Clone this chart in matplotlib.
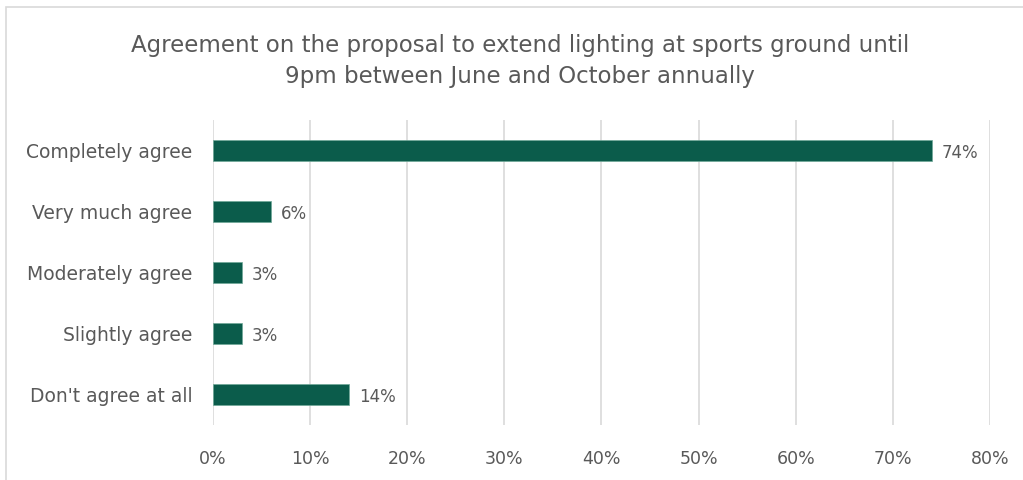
import matplotlib.pyplot as plt
from matplotlib.patches import Rectangle

# Survey answers, top to bottom
categories = ['Completely agree', 'Very much agree', 'Moderately agree',
              'Slightly agree', "Don't agree at all"]
shares = [74, 6, 3, 3, 14]
ticks = [0, 10, 20, 30, 40, 50, 60, 70, 80]

text_grey = '#595959'
bar_green = '#0B5C4B'

plt.rcParams['font.family'] = ['DejaVu Sans']

fig = plt.figure(figsize=(10.23, 4.8), dpi=100)
ax = fig.add_axes([0.2082, 0.1146, 0.7595, 0.6354])

ypos = list(range(len(categories)))
ax.barh(ypos, shares, height=0.33, color=bar_green, edgecolor='#6fa898', linewidth=0.5, zorder=3)

# Value labels to the right of each bar
for y, v in zip(ypos, shares):
    ax.text(v + 1.0, y + 0.04, f'{v}%', va='center', ha='left', fontsize=12, color=text_grey)

ax.set_xlim(0, 80)
ax.set_ylim(4.5, -0.5)
ax.set_xticks(ticks)
ax.set_xticklabels([f'{t}%' for t in ticks])
ax.set_yticks(ypos)
ax.set_yticklabels(categories)
ax.tick_params(axis='x', length=0, labelsize=12.5, colors=text_grey, pad=18)
ax.tick_params(axis='y', length=0, labelsize=13.5, colors=text_grey, pad=15)

ax.grid(axis='x', color='#d9d9d9', linewidth=1.2, zorder=0)
for side in ['top', 'right', 'bottom', 'left']:
    ax.spines[side].set_visible(False)

fig.text(0.508, 0.872, 'Agreement on the proposal to extend lighting at sports ground until\n9pm between June and October annually',
         ha='center', va='center', fontsize=16.5, color=text_grey, linespacing=1.45)

# Chart frame, cut off at right and bottom in the reference
frame = Rectangle((6 / 1023, -0.1), 1.2, 1 - 7 / 480 + 0.1, transform=fig.transFigure,
                  fill=False, edgecolor='#d9d9d9', linewidth=1.2)
fig.patches.append(frame)

fig.savefig('out.png', dpi=100)
